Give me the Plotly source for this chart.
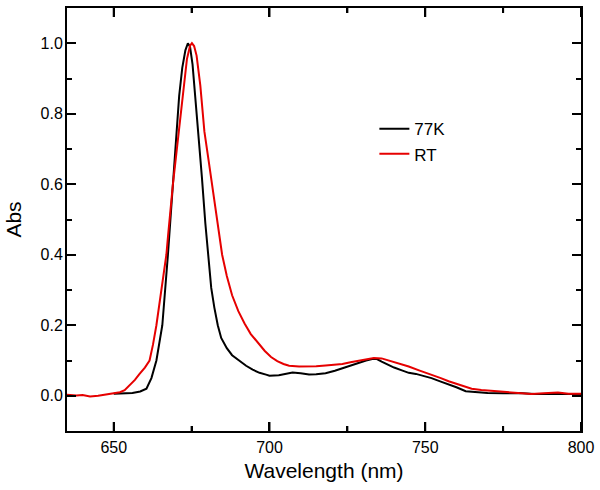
import plotly.graph_objects as go

# 77K spectrum (wavelength nm, normalized absorbance)
wl_77k = [650, 653, 656, 658.5, 660.5, 662.1, 663.7, 665.6, 666.6, 667.4, 668.2, 669.2,
          670.1, 671, 672, 673, 673.8, 674.5, 675.3, 676.2, 677.0, 678.3, 679.4, 680.3,
          681.3, 682.3, 683.4, 684.5, 686.3, 688, 690.3, 692.5, 694.6, 696.8, 698.9, 700, 703, 705,
          707.4, 710, 712.7, 715, 718, 721, 723.4, 726, 728.7, 731, 733, 734.5, 736, 738,
          740, 742.5, 744.7, 747, 749, 752, 755, 757.5, 760, 763, 766, 770, 775, 780, 785,
          790, 795, 800]
abs_77k = [0.006, 0.006, 0.008, 0.012, 0.02, 0.05, 0.1, 0.2, 0.3, 0.4, 0.5, 0.63,
           0.75, 0.85, 0.93, 0.98, 1.0, 0.99, 0.94, 0.85, 0.75, 0.62, 0.49, 0.39,
           0.306, 0.25, 0.2, 0.164, 0.135, 0.115, 0.1, 0.085, 0.074, 0.065, 0.06, 0.057, 0.058, 0.062,
           0.066, 0.064, 0.06, 0.061, 0.064, 0.071, 0.078, 0.086, 0.095, 0.1, 0.104, 0.104, 0.097, 0.088,
           0.08, 0.072, 0.065, 0.062, 0.058, 0.05, 0.04, 0.033, 0.024, 0.013, 0.01, 0.008, 0.007, 0.008, 0.005,
           0.006, 0.005, 0.005]

# RT spectrum
wl_rt = [635, 638, 640, 642.4, 645, 648, 650.4, 652, 653.5, 655.1, 656.8, 658.3, 660, 661.5,
         662.6, 663.7, 665.3, 666.9, 667.4, 669, 670.9, 672.3, 673.5, 674.5, 675.1, 675.8, 676.6, 677.8,
         679.1, 680.5, 682, 683.5, 684.8, 686.3, 688, 690, 692, 694, 696.2, 698.5, 700.5,
         702.5, 704.5, 706.3, 709.5, 712.7, 715, 718, 721, 723.4, 726, 728.7, 731, 733.5, 736,
         739.3, 741.5, 744.7, 748, 752.1, 755, 757.5, 761, 764.9, 768, 773.5, 778, 784.1,
         788, 792.6, 796, 800]
abs_rt = [0.003, 0.001, 0.002, -0.002, 0.0, 0.004, 0.007, 0.01, 0.016, 0.03, 0.045, 0.062, 0.08, 0.1,
          0.145, 0.2, 0.3, 0.4, 0.45, 0.6, 0.75, 0.86, 0.955, 0.993, 1.0, 0.992, 0.965, 0.88,
          0.75, 0.665, 0.575, 0.49, 0.4, 0.34, 0.285, 0.24, 0.205, 0.175, 0.15, 0.127, 0.11,
          0.098, 0.09, 0.085, 0.083, 0.083, 0.084, 0.086, 0.088, 0.09, 0.095, 0.1, 0.104, 0.107, 0.106,
          0.098, 0.091, 0.083, 0.072, 0.06, 0.05, 0.041, 0.03, 0.02, 0.016, 0.012, 0.01, 0.005,
          0.007, 0.009, 0.006, 0.006]

x_range = [635, 800]
y_range = [-0.1, 1.1]
x_major_ticks = [650, 700, 750, 800]
x_minor_ticks = [675, 725, 775]

FONT = "Liberation Sans, Arial, sans-serif"

fig = go.Figure()
fig.add_trace(go.Scatter(x=wl_77k, y=abs_77k, mode="lines", name="77K",
                         line=dict(color="black", width=2)))
fig.add_trace(go.Scatter(x=wl_rt, y=abs_rt, mode="lines", name="RT",
                         line=dict(color="#e60000", width=2)))

axis_common = dict(showline=True, linecolor="black", linewidth=2, mirror="allticks",
                   ticks="inside", ticklen=9, tickwidth=2, tickcolor="black",
                   showgrid=False, zeroline=False,
                   tickfont=dict(family=FONT, size=16, color="black"))

fig.update_layout(
    xaxis=dict(range=x_range, tickmode="array", tickvals=x_major_ticks, tickformat="d",
               minor=dict(ticks="inside", ticklen=5, tickwidth=2, tickcolor="black",
                          tickvals=x_minor_ticks, showgrid=False),
               ticklabelstandoff=1,
               title=dict(text="Wavelength (nm)", font=dict(family=FONT, size=21, color="black"),
                          standoff=8),
               **axis_common),
    yaxis=dict(range=y_range, tickmode="linear", tick0=0, dtick=0.2, tickformat=".1f",
               minor=dict(ticks="inside", ticklen=5, tickwidth=2, tickcolor="black",
                          dtick=0.1, tick0=0, showgrid=False),
               ticklabelstandoff=-1,
               title=dict(text="Abs", font=dict(family=FONT, size=21, color="black"),
                          standoff=13),
               **axis_common),
)

# inward tick marks on the bottom and top frame edges, placed on the x scale
tick_line = dict(color="black", width=2)
for tv, tl in [(v, 9) for v in x_major_ticks] + [(v, 5) for v in x_minor_ticks]:
    fig.add_shape(type="line", xref="x", yref="paper", ysizemode="pixel",
                  x0=tv, x1=tv, yanchor=0, y0=0, y1=tl, line=tick_line, layer="above")
    fig.add_shape(type="line", xref="x", yref="paper", ysizemode="pixel",
                  x0=tv, x1=tv, yanchor=1, y0=0, y1=-tl, line=tick_line, layer="above")

fig.update_layout(
    width=600, height=490,
    margin=dict(l=67, r=17, t=6, b=59),
    plot_bgcolor="white", paper_bgcolor="white",
    showlegend=True,
    legend=dict(x=0.598, y=0.756, xanchor="left", yanchor="top",
                bgcolor="rgba(0,0,0,0)",
                font=dict(family=FONT, size=17, color="black"),
                tracegroupgap=0, itemwidth=30),
)

fig.write_html("out.html", config={"displayModeBar": False},
               post_script="document.body.style.margin='0';")
